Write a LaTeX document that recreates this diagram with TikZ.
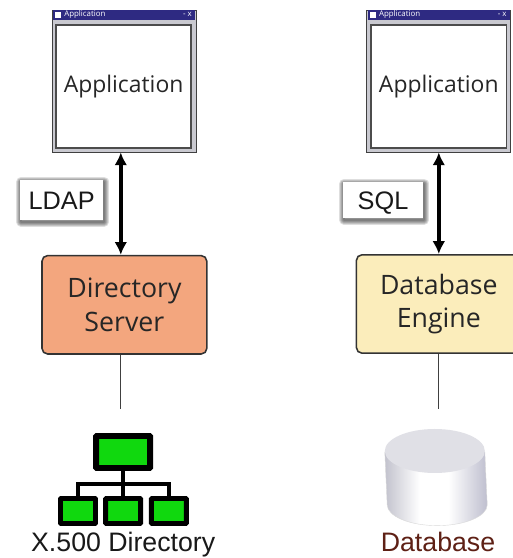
\documentclass[tikz,border=0pt]{standalone}
\usepackage{fontspec}
\setmainfont{Open Sans}
\newfontfamily\labelfont{Liberation Sans}
\usetikzlibrary{arrows.meta,shadows}
\definecolor{titlebar}{HTML}{2E2A82}
\definecolor{framegray}{HTML}{C9C9D0}
\definecolor{serverfill}{HTML}{F3A67E}
\definecolor{enginefill}{HTML}{FBEDBB}
\definecolor{treegreen}{HTML}{10D80E}
\definecolor{dbred}{HTML}{5E2015}
\definecolor{dbtop}{HTML}{E0E0E6}
\pgfdeclarehorizontalshading{dbside}{100bp}{
  rgb(0bp)=(0.50,0.50,0.56); rgb(22bp)=(0.72,0.72,0.77); rgb(42bp)=(1,1,1);
  rgb(56bp)=(1,1,1); rgb(74bp)=(0.76,0.76,0.82); rgb(100bp)=(0.42,0.42,0.50)}
\tikzset{
  softedge/.style={general shadow={draw=black,fill=none,opacity=.13,line join=round,line width=#1,shadow xshift=.03cm,shadow yshift=-.04cm}},
  winframe/.style={draw=black!75,line width=.6pt,fill=framegray,minimum width=3.6cm,minimum height=3.55cm,inner sep=0pt},
  winpane/.style={draw=black!70,line width=1.1pt,fill=white,minimum width=3.38cm,minimum height=3.07cm,inner sep=0pt,font=\fontsize{16.3}{18}\selectfont,text=black!85},
  wintitle/.style={fill=titlebar,minimum width=3.56cm,minimum height=.24cm,inner sep=0pt},
  wintext/.style={text=white,font=\fontsize{5.6}{6}\selectfont,inner sep=0pt},
  winicon/.style={fill=white,minimum size=.14cm,inner sep=0pt},
  proto/.style={fill=white,font=\labelfont\fontsize{18}{20}\selectfont,text=black!90,inner sep=0pt,text height=13pt,text depth=0pt,
    softedge=7.1pt,softedge=5.7pt,softedge=4.3pt,softedge=2.8pt,softedge=1.4pt},
  server/.style={draw=black!80,line width=1.1pt,rounded corners=.14cm,minimum width=4.12cm,minimum height=2.46cm,align=center,
    font=\fontsize{19}{24}\selectfont,text=black!85},
  link/.style={line width=3pt,{Latex[length=.32cm,width=.32cm]}-{Latex[length=.32cm,width=.32cm]}},
  store/.style={line width=.8pt,draw=black!75},
  treetop/.style={draw=black,fill=treegreen,line width=4.25pt,rounded corners=.5pt,inner sep=0pt,minimum width=1.35cm,minimum height=.8cm},
  treebox/.style={draw=black,fill=treegreen,line width=3.5pt,rounded corners=.5pt,inner sep=0pt,minimum width=.875cm,minimum height=.625cm},
  treeline/.style={draw=black,line width=2.8pt},
  caption/.style={font=\labelfont\fontsize{19}{21}\selectfont,inner sep=0pt,anchor=base}
}
\begin{document}
\begin{tikzpicture}
\useasboundingbox[fill=white] (0,0) rectangle (12.825,13.95);
%% Left column
\node[winframe] (appL) at (3.1,11.925) {};
\node[wintitle] (titleL) at (3.1,13.57) {};
\node[winicon] (iconL) at (1.45,13.57) {};
\node[wintext,anchor=west] (nameL) at (1.6,13.58) {Application};
\node[wintext,anchor=east] (btnL) at (4.8,13.58) {- x};
\node[winpane] (paneL) at (3.09,11.79) {Application};
\node[server,fill=serverfill] (dirsrv) at (3.11,6.33) {Directory\\Server};
\coordinate (linkL) at (3.02,9);
\draw[link] (appL.south -| linkL) -- (dirsrv.north -| linkL);
\node[proto,minimum width=2.07cm,minimum height=1cm] (ldap) at (1.54,8.95) {LDAP};
\coordinate (dirend) at (linkL |- 0,3.73);
\draw[store] (dirsrv.south -| linkL) -- (dirend);
%% Tree icon
\node[treetop] (treeTop) at (3.08,2.65) {};
\node[treebox] (treeA) at (1.95,1.175) {};
\node[treebox] (treeB) at (3.08,1.175) {};
\node[treebox] (treeC) at (4.22,1.175) {};
\coordinate (treeBus) at (3.08,1.85);
\draw[treeline] (treeTop.south) -- (treeB.north);
\draw[treeline] (treeA.north) |- (treeBus) -| (treeC.north);
\node[caption,text=black!90] (dirlabel) at (3.08,.15) {X.500 Directory};
%% Right column
\node[winframe] (appR) at (10.97,11.925) {};
\node[wintitle] (titleR) at (10.97,13.57) {};
\node[winicon] (iconR) at (9.32,13.57) {};
\node[wintext,anchor=west] (nameR) at (9.47,13.58) {Application};
\node[wintext,anchor=east] (btnR) at (12.67,13.58) {- x};
\node[winpane] (paneR) at (10.97,11.79) {Application};
\node[server,fill=enginefill] (dbeng) at (10.97,6.35) {Database\\Engine};
\draw[link] (appR.south) -- (dbeng.north);
\node[proto,minimum width=2cm,minimum height=.9cm] (sql) at (9.575,8.95) {SQL};
\coordinate (dbend) at (dbeng.south |- 0,3.73);
\draw[store] (dbeng.south) -- (dbend);
%% Cylinder
\path[shading=dbside,draw=black!15,line width=.3pt] (9.62,2.65) -- (9.68,1.33) arc(180:360:1.25cm and .52cm) -- (12.12,2.65) -- cycle;
\fill[dbtop] (10.87,2.675) ellipse (1.25cm and .55cm);
\node[caption,text=dbred] (dblabel) at (10.95,.15) {Database};
\end{tikzpicture}
\end{document}
